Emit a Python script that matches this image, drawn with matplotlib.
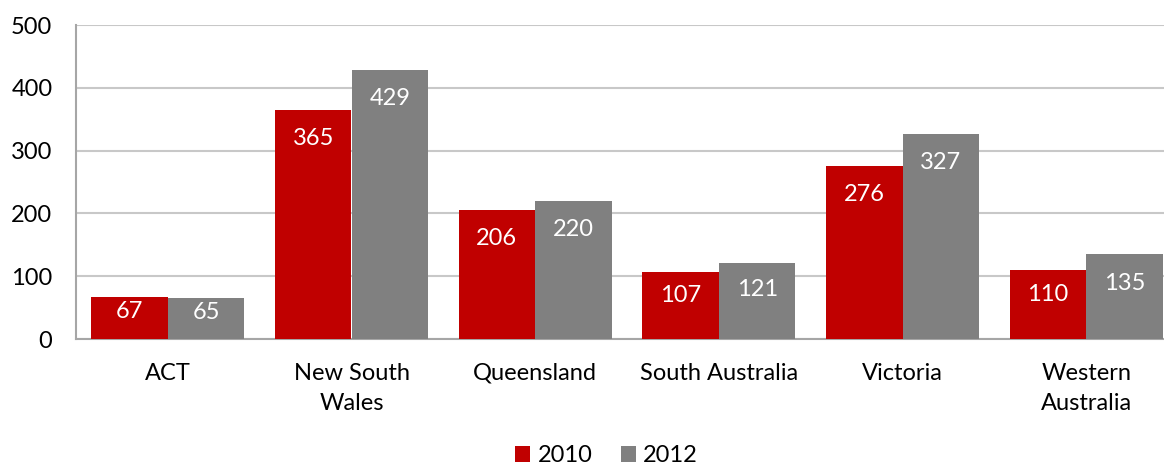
import matplotlib
matplotlib.use("Agg")
import matplotlib.pyplot as plt
import numpy as np

# Daten
regionen = ["ACT", "New South\nWales", "Queensland", "South Australia",
            "Victoria", "Western\nAustralia"]
werte_2010 = [67, 365, 206, 107, 276, 110]
werte_2012 = [65, 429, 220, 121, 327, 135]
jahre = ["2010", "2012"]

ROT = "#C00000"
GRAU = "#808080"

plt.rcParams["font.family"] = ["Lato", "DejaVu Sans"]

fig = plt.figure(figsize=(11.64, 4.70), dpi=100)
ax = fig.add_axes([76 / 1164, 131 / 470, 1102 / 1164, 314 / 470])

x = np.arange(len(regionen))
breite = 0.417

b1 = ax.bar(x - breite / 2, werte_2010, breite, color=ROT, label=jahre[0], zorder=3)
b2 = ax.bar(x + breite / 2, werte_2012, breite, color=GRAU, label=jahre[1], zorder=3)

# Werte in die Balken schreiben (oben innen)
for balken, werte in [(b1, werte_2010), (b2, werte_2012)]:
    for rect, v in zip(balken, werte):
        y = max(v - 46, v * 0.65)
        ax.text(rect.get_x() + rect.get_width() / 2, y, str(v),
                ha="center", va="center", color="white", fontsize=17, zorder=4)

ax.set_xlim(-0.5, len(regionen) - 0.5)
ax.set_ylim(0, 500)
ax.set_yticks(range(0, 501, 100))
ax.set_xticks(x)
ax.set_xticklabels(regionen, linespacing=1.55)

ax.grid(axis="y", color="#C8C8C8", linewidth=1.5, zorder=0)
ax.tick_params(axis="both", length=0, labelsize=17)
ax.tick_params(axis="y", pad=17)
ax.tick_params(axis="x", pad=17)

for s in ["top", "right"]:
    ax.spines[s].set_visible(False)
ax.spines["left"].set_color("#A6A6A6")
ax.spines["bottom"].set_color("#A6A6A6")
ax.spines["left"].set_linewidth(1.5)
ax.spines["bottom"].set_linewidth(1.5)

fig.legend(loc="center", bbox_to_anchor=(0.521, 0.03), ncol=2, frameon=False,
           fontsize=17, handlelength=0.65, handleheight=0.65, handletextpad=0.3,
           columnspacing=1.2, borderpad=0)

fig.savefig("out.png", dpi=100)
